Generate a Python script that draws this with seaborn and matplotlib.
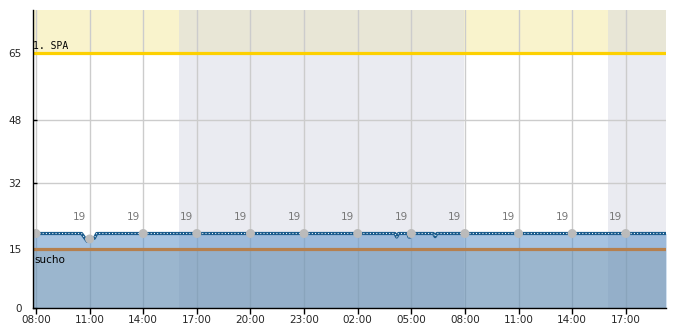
import matplotlib
matplotlib.use("Agg")
import matplotlib.pyplot as plt
import matplotlib.dates as mdates
import seaborn as sns
import pandas as pd
import numpy as np

# ---- data ----
series_times = [
    "2024-05-01 07:50", "2024-05-01 10:33", "2024-05-01 10:52", "2024-05-01 11:00",
    "2024-05-01 11:16", "2024-05-01 11:24",
    "2024-05-02 04:05", "2024-05-02 04:11", "2024-05-02 04:17",
    "2024-05-02 04:48", "2024-05-02 04:52", "2024-05-02 04:56", "2024-05-02 05:00",
    "2024-05-02 06:14", "2024-05-02 06:20", "2024-05-02 06:26",
    "2024-05-02 19:15",
]
series_values = [19, 19, 17.0, 17.6, 17.8, 19,
                 19, 18.1, 19,
                 19, 18.1, 18.1, 19,
                 19, 18.2, 19,
                 19]

marker_times = [
    "2024-05-01 08:00", "2024-05-01 11:00", "2024-05-01 14:00", "2024-05-01 17:00",
    "2024-05-01 20:00", "2024-05-01 23:00", "2024-05-02 02:00", "2024-05-02 05:00",
    "2024-05-02 08:00", "2024-05-02 11:00", "2024-05-02 14:00", "2024-05-02 17:00",
]
marker_values = [19, 17.6, 19, 19, 19, 19, 19, 19, 19, 19, 19, 19]
marker_labels = ["", "19", "19", "19", "19", "19", "19", "19", "19", "19", "19", "19"]
label_values = [19] * 12

night_starts = ["2024-05-01 16:00", "2024-05-02 16:00"]
night_ends = ["2024-05-02 07:58", "2024-05-02 19:15"]

thresholds = [65, 15]
threshold_labels = ["1. SPA", "sucho"]
threshold_colors = ["#fdd000", "#b5804f"]

y_ticks = [0, 15, 32, 48, 65]
x_start, x_end = "2024-05-01 07:50", "2024-05-02 19:15"
y_max = 76

# ---- plot ----
sns.set_style("white")
plt.rcParams["font.family"] = ["DejaVu Sans"]

fig = plt.figure(figsize=(6.85, 3.3), dpi=100)
ax = fig.add_axes([33 / 685, 1 - 308 / 330, (666 - 33) / 685, (308 - 10) / 330])

t = mdates.date2num(pd.to_datetime(series_times))
v = np.array(series_values, dtype=float)
mt = mdates.date2num(pd.to_datetime(marker_times))

# background bands
ax.axhspan(thresholds[0], y_max, color="#f9f3cc", lw=0, zorder=0)
for s, e in zip(night_starts, night_ends):
    s_, e_ = mdates.date2num(pd.Timestamp(s)), mdates.date2num(pd.Timestamp(e))
    ax.axvspan(s_, e_, ymin=0, ymax=thresholds[0] / y_max, color="#eaebf1", lw=0, zorder=0.1)
    ax.axvspan(s_, e_, ymin=thresholds[0] / y_max, ymax=1, color="#e8e6d6", lw=0, zorder=0.1)

# fills
ax.fill_between(t, 0, v, color=(87 / 255, 143 / 255, 200 / 255), alpha=0.53, lw=0, zorder=1)
ax.fill_between([t[0], t[-1]], 0, thresholds[1], color=(126 / 255, 144 / 255, 150 / 255),
                alpha=0.25, lw=0, zorder=1.1)

# threshold lines
for yv, lab, col in zip(thresholds, threshold_labels, threshold_colors):
    ax.axhline(yv, color=col, lw=2.3, zorder=2)
ax.text(mdates.date2num(pd.Timestamp(x_start)), thresholds[0] + 0.6, threshold_labels[0],
        fontsize=7, family="DejaVu Sans Mono", ha="left", va="bottom", color="black", zorder=5,
        transform=ax.transData)
ax.annotate(threshold_labels[1], (mdates.date2num(pd.Timestamp(x_start)), thresholds[1]),
            xytext=(1, -6), textcoords="offset pixels", fontsize=7.5, ha="left", va="top",
            color="black", zorder=5)

# series line
df = pd.DataFrame({"t": t, "v": v})
sns.lineplot(data=df, x="t", y="v", ax=ax, color="#1a5b8c", lw=2.3, zorder=3,
             estimator=None, sort=False)
ax.plot(t, v, color="white", lw=0.8, dashes=(0.9, 2.0), zorder=3.5)

# markers
mdf = pd.DataFrame({"t": mt, "v": marker_values})
sns.scatterplot(data=mdf, x="t", y="v", ax=ax, color="#bbbbbb", s=42, edgecolor="none", zorder=4)
for x_, lv, lab in zip(mt, label_values, marker_labels):
    if lab:
        ax.annotate(lab, (x_, lv), xytext=(-10, 16), textcoords="offset pixels",
                    fontsize=7.5, color="#777777", ha="center", va="center", zorder=5)

# axes
ax.set_xlim(mdates.date2num(pd.Timestamp(x_start)), mdates.date2num(pd.Timestamp(x_end)))
ax.set_ylim(0, y_max)
ax.set_yticks(y_ticks)
ax.xaxis.set_major_locator(mdates.HourLocator(byhour=range(2, 24, 3)))
ax.xaxis.set_major_formatter(mdates.DateFormatter("%H:%M"))
ax.set_xlabel("")
ax.set_ylabel("")
ax.grid(True, color="#cccccc", lw=1)
ax.set_axisbelow(True)
for gl in ax.get_xgridlines() + ax.get_ygridlines():
    gl.set_zorder(0.5)
for sp in ["top", "right"]:
    ax.spines[sp].set_visible(False)
for sp in ["left", "bottom"]:
    ax.spines[sp].set_color("black")
    ax.spines[sp].set_linewidth(1)
    ax.spines[sp].set_zorder(6)
ax.tick_params(axis="x", direction="out", length=4, width=1, color="black", labelsize=7.5, pad=1)
ax.tick_params(axis="y", direction="in", length=3, width=1, color="black", labelsize=7.5, pad=8)
ax.tick_params(left=True, bottom=True)

fig.savefig("out.png", dpi=100)
